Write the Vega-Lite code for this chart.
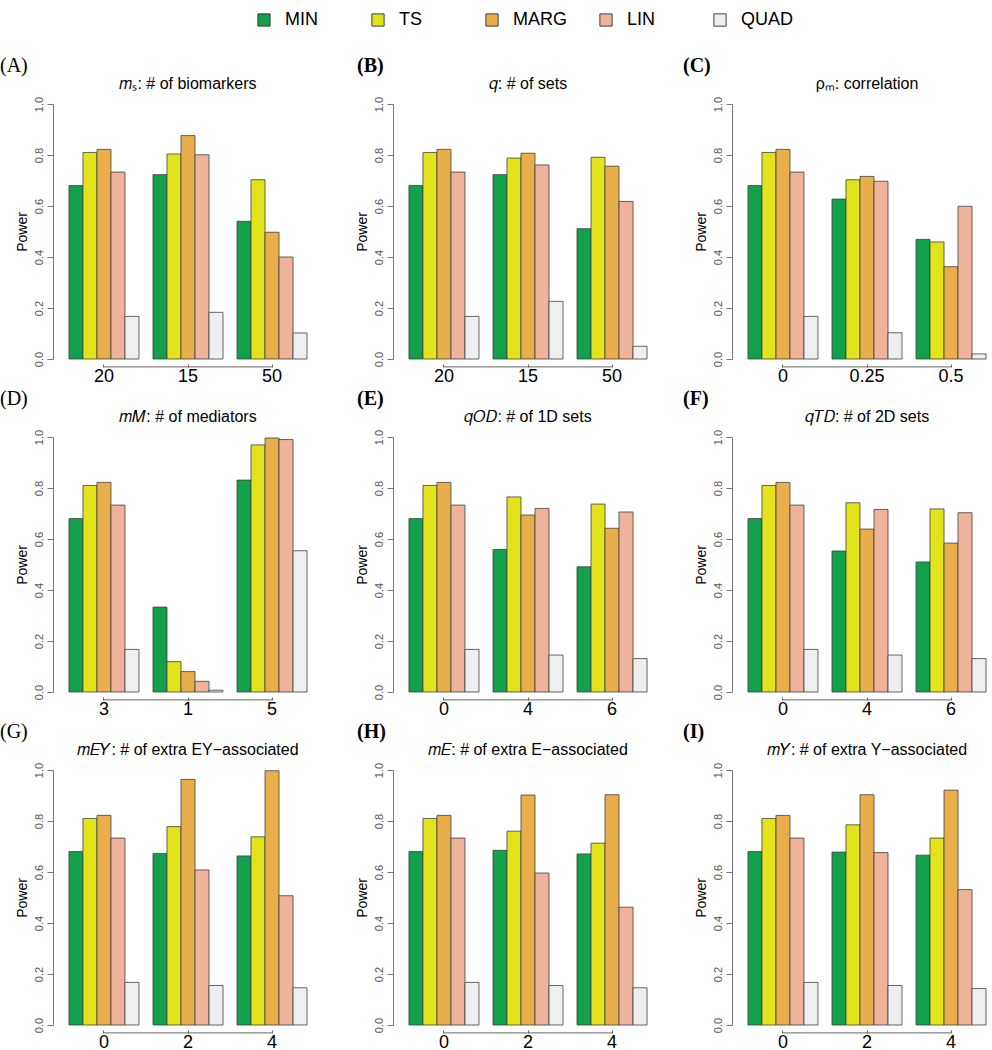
{
  "$schema": "https://vega.github.io/schema/vega-lite/v6.json",
  "padding": {"left": 0, "top": 11, "right": 0, "bottom": 2},
  "background": "white",
  "spacing": 4,
  "config": {
    "view": {"stroke": null},
    "font": "Liberation Sans"
  },
  "datasets": {
    "d": [
      {"panel": "A", "group": "20", "method": "MIN", "power": 0.68},
      {"panel": "A", "group": "20", "method": "TS", "power": 0.81},
      {"panel": "A", "group": "20", "method": "MARG", "power": 0.822},
      {"panel": "A", "group": "20", "method": "LIN", "power": 0.733},
      {"panel": "A", "group": "20", "method": "QUAD", "power": 0.167},
      {"panel": "A", "group": "15", "method": "MIN", "power": 0.723},
      {"panel": "A", "group": "15", "method": "TS", "power": 0.804},
      {"panel": "A", "group": "15", "method": "MARG", "power": 0.876},
      {"panel": "A", "group": "15", "method": "LIN", "power": 0.801},
      {"panel": "A", "group": "15", "method": "QUAD", "power": 0.183},
      {"panel": "A", "group": "50", "method": "MIN", "power": 0.54},
      {"panel": "A", "group": "50", "method": "TS", "power": 0.703},
      {"panel": "A", "group": "50", "method": "MARG", "power": 0.497},
      {"panel": "A", "group": "50", "method": "LIN", "power": 0.4},
      {"panel": "A", "group": "50", "method": "QUAD", "power": 0.102},

      {"panel": "B", "group": "20", "method": "MIN", "power": 0.68},
      {"panel": "B", "group": "20", "method": "TS", "power": 0.81},
      {"panel": "B", "group": "20", "method": "MARG", "power": 0.822},
      {"panel": "B", "group": "20", "method": "LIN", "power": 0.733},
      {"panel": "B", "group": "20", "method": "QUAD", "power": 0.167},
      {"panel": "B", "group": "15", "method": "MIN", "power": 0.723},
      {"panel": "B", "group": "15", "method": "TS", "power": 0.788},
      {"panel": "B", "group": "15", "method": "MARG", "power": 0.807},
      {"panel": "B", "group": "15", "method": "LIN", "power": 0.761},
      {"panel": "B", "group": "15", "method": "QUAD", "power": 0.226},
      {"panel": "B", "group": "50", "method": "MIN", "power": 0.511},
      {"panel": "B", "group": "50", "method": "TS", "power": 0.791},
      {"panel": "B", "group": "50", "method": "MARG", "power": 0.756},
      {"panel": "B", "group": "50", "method": "LIN", "power": 0.618},
      {"panel": "B", "group": "50", "method": "QUAD", "power": 0.05},

      {"panel": "C", "group": "0", "method": "MIN", "power": 0.68},
      {"panel": "C", "group": "0", "method": "TS", "power": 0.81},
      {"panel": "C", "group": "0", "method": "MARG", "power": 0.822},
      {"panel": "C", "group": "0", "method": "LIN", "power": 0.733},
      {"panel": "C", "group": "0", "method": "QUAD", "power": 0.167},
      {"panel": "C", "group": "0.25", "method": "MIN", "power": 0.627},
      {"panel": "C", "group": "0.25", "method": "TS", "power": 0.703},
      {"panel": "C", "group": "0.25", "method": "MARG", "power": 0.716},
      {"panel": "C", "group": "0.25", "method": "LIN", "power": 0.697},
      {"panel": "C", "group": "0.25", "method": "QUAD", "power": 0.103},
      {"panel": "C", "group": "0.5", "method": "MIN", "power": 0.469},
      {"panel": "C", "group": "0.5", "method": "TS", "power": 0.459},
      {"panel": "C", "group": "0.5", "method": "MARG", "power": 0.362},
      {"panel": "C", "group": "0.5", "method": "LIN", "power": 0.599},
      {"panel": "C", "group": "0.5", "method": "QUAD", "power": 0.02},

      {"panel": "D", "group": "3", "method": "MIN", "power": 0.68},
      {"panel": "D", "group": "3", "method": "TS", "power": 0.81},
      {"panel": "D", "group": "3", "method": "MARG", "power": 0.822},
      {"panel": "D", "group": "3", "method": "LIN", "power": 0.733},
      {"panel": "D", "group": "3", "method": "QUAD", "power": 0.167},
      {"panel": "D", "group": "1", "method": "MIN", "power": 0.333},
      {"panel": "D", "group": "1", "method": "TS", "power": 0.119},
      {"panel": "D", "group": "1", "method": "MARG", "power": 0.08},
      {"panel": "D", "group": "1", "method": "LIN", "power": 0.042},
      {"panel": "D", "group": "1", "method": "QUAD", "power": 0.007},
      {"panel": "D", "group": "5", "method": "MIN", "power": 0.831},
      {"panel": "D", "group": "5", "method": "TS", "power": 0.969},
      {"panel": "D", "group": "5", "method": "MARG", "power": 0.996},
      {"panel": "D", "group": "5", "method": "LIN", "power": 0.99},
      {"panel": "D", "group": "5", "method": "QUAD", "power": 0.554},

      {"panel": "E", "group": "0", "method": "MIN", "power": 0.68},
      {"panel": "E", "group": "0", "method": "TS", "power": 0.81},
      {"panel": "E", "group": "0", "method": "MARG", "power": 0.822},
      {"panel": "E", "group": "0", "method": "LIN", "power": 0.733},
      {"panel": "E", "group": "0", "method": "QUAD", "power": 0.167},
      {"panel": "E", "group": "4", "method": "MIN", "power": 0.559},
      {"panel": "E", "group": "4", "method": "TS", "power": 0.765},
      {"panel": "E", "group": "4", "method": "MARG", "power": 0.694},
      {"panel": "E", "group": "4", "method": "LIN", "power": 0.72},
      {"panel": "E", "group": "4", "method": "QUAD", "power": 0.145},
      {"panel": "E", "group": "6", "method": "MIN", "power": 0.491},
      {"panel": "E", "group": "6", "method": "TS", "power": 0.737},
      {"panel": "E", "group": "6", "method": "MARG", "power": 0.642},
      {"panel": "E", "group": "6", "method": "LIN", "power": 0.706},
      {"panel": "E", "group": "6", "method": "QUAD", "power": 0.131},

      {"panel": "F", "group": "0", "method": "MIN", "power": 0.68},
      {"panel": "F", "group": "0", "method": "TS", "power": 0.81},
      {"panel": "F", "group": "0", "method": "MARG", "power": 0.822},
      {"panel": "F", "group": "0", "method": "LIN", "power": 0.733},
      {"panel": "F", "group": "0", "method": "QUAD", "power": 0.167},
      {"panel": "F", "group": "4", "method": "MIN", "power": 0.553},
      {"panel": "F", "group": "4", "method": "TS", "power": 0.742},
      {"panel": "F", "group": "4", "method": "MARG", "power": 0.639},
      {"panel": "F", "group": "4", "method": "LIN", "power": 0.716},
      {"panel": "F", "group": "4", "method": "QUAD", "power": 0.145},
      {"panel": "F", "group": "6", "method": "MIN", "power": 0.51},
      {"panel": "F", "group": "6", "method": "TS", "power": 0.718},
      {"panel": "F", "group": "6", "method": "MARG", "power": 0.584},
      {"panel": "F", "group": "6", "method": "LIN", "power": 0.703},
      {"panel": "F", "group": "6", "method": "QUAD", "power": 0.131},

      {"panel": "G", "group": "0", "method": "MIN", "power": 0.68},
      {"panel": "G", "group": "0", "method": "TS", "power": 0.81},
      {"panel": "G", "group": "0", "method": "MARG", "power": 0.822},
      {"panel": "G", "group": "0", "method": "LIN", "power": 0.733},
      {"panel": "G", "group": "0", "method": "QUAD", "power": 0.167},
      {"panel": "G", "group": "2", "method": "MIN", "power": 0.673},
      {"panel": "G", "group": "2", "method": "TS", "power": 0.778},
      {"panel": "G", "group": "2", "method": "MARG", "power": 0.963},
      {"panel": "G", "group": "2", "method": "LIN", "power": 0.608},
      {"panel": "G", "group": "2", "method": "QUAD", "power": 0.155},
      {"panel": "G", "group": "4", "method": "MIN", "power": 0.663},
      {"panel": "G", "group": "4", "method": "TS", "power": 0.738},
      {"panel": "G", "group": "4", "method": "MARG", "power": 0.997},
      {"panel": "G", "group": "4", "method": "LIN", "power": 0.507},
      {"panel": "G", "group": "4", "method": "QUAD", "power": 0.146},

      {"panel": "H", "group": "0", "method": "MIN", "power": 0.68},
      {"panel": "H", "group": "0", "method": "TS", "power": 0.81},
      {"panel": "H", "group": "0", "method": "MARG", "power": 0.822},
      {"panel": "H", "group": "0", "method": "LIN", "power": 0.733},
      {"panel": "H", "group": "0", "method": "QUAD", "power": 0.167},
      {"panel": "H", "group": "2", "method": "MIN", "power": 0.685},
      {"panel": "H", "group": "2", "method": "TS", "power": 0.76},
      {"panel": "H", "group": "2", "method": "MARG", "power": 0.902},
      {"panel": "H", "group": "2", "method": "LIN", "power": 0.596},
      {"panel": "H", "group": "2", "method": "QUAD", "power": 0.155},
      {"panel": "H", "group": "4", "method": "MIN", "power": 0.671},
      {"panel": "H", "group": "4", "method": "TS", "power": 0.713},
      {"panel": "H", "group": "4", "method": "MARG", "power": 0.903},
      {"panel": "H", "group": "4", "method": "LIN", "power": 0.462},
      {"panel": "H", "group": "4", "method": "QUAD", "power": 0.146},

      {"panel": "I", "group": "0", "method": "MIN", "power": 0.68},
      {"panel": "I", "group": "0", "method": "TS", "power": 0.81},
      {"panel": "I", "group": "0", "method": "MARG", "power": 0.822},
      {"panel": "I", "group": "0", "method": "LIN", "power": 0.733},
      {"panel": "I", "group": "0", "method": "QUAD", "power": 0.167},
      {"panel": "I", "group": "2", "method": "MIN", "power": 0.678},
      {"panel": "I", "group": "2", "method": "TS", "power": 0.785},
      {"panel": "I", "group": "2", "method": "MARG", "power": 0.903},
      {"panel": "I", "group": "2", "method": "LIN", "power": 0.676},
      {"panel": "I", "group": "2", "method": "QUAD", "power": 0.155},
      {"panel": "I", "group": "4", "method": "MIN", "power": 0.666},
      {"panel": "I", "group": "4", "method": "TS", "power": 0.733},
      {"panel": "I", "group": "4", "method": "MARG", "power": 0.921},
      {"panel": "I", "group": "4", "method": "LIN", "power": 0.531},
      {"panel": "I", "group": "4", "method": "QUAD", "power": 0.143}
    ]
  },
  "vconcat": [
    {"spacing": 20, "hconcat": [
      {"title": {"text": "(A)", "anchor": "start", "font": "Liberation Serif", "fontSize": 20, "fontWeight": "normal", "offset": 0, "dx": -15},
       "vconcat": [{
        "width": 282, "height": 255,
        "title": {"text": "𝑚ₛ: # of biomarkers", "anchor": "middle", "frame": "group", "fontSize": 16, "fontWeight": "normal", "offset": 4, "dx": -6},
        "layer": [
          {"data": {"name": "d"}, "transform": [{"filter": "datum.panel == 'A'"}],
           "mark": {"type": "bar", "stroke": "#404040", "strokeWidth": 0.8},
           "encoding": {
             "x": {"field": "group", "type": "nominal", "scale": {"domain": ["20", "15", "50"], "range": [0, 270], "paddingInner": 0.1667, "paddingOuter": 0.19},
                   "axis": {"title": null, "labelAngle": 0, "labelFontSize": 18, "domain": false, "tickSize": -3, "tickColor": "#666", "offset": 8, "labelPadding": 3}},
             "xOffset": {"field": "method", "type": "nominal", "scale": {"domain": ["MIN", "TS", "MARG", "LIN", "QUAD"], "paddingInner": 0, "paddingOuter": 0}},
             "y": {"field": "power", "type": "quantitative", "scale": {"domain": [0, 1], "nice": false},
                   "axis": {"title": "Power", "values": [0, 0.2, 0.4, 0.6, 0.8, 1], "format": ".1f", "labelAngle": -90, "labelAlign": "center", "labelBaseline": "bottom", "labelFontSize": 11, "labelColor": "#555", "tickSize": 6, "tickColor": "#777", "domainColor": "#777", "grid": false, "titleFontSize": 14, "titleFontWeight": "normal", "titlePadding": 4, "labelPadding": 3}},
             "color": {"field": "method", "type": "nominal", "scale": {"domain": ["MIN", "TS", "MARG", "LIN", "QUAD"], "range": ["#12a14a", "#e2e31a", "#e9ae4c", "#efb29b", "#eeeff1"]},
                       "legend": {"title": null, "orient": "none", "legendX": 202, "legendY": -93, "direction": "horizontal", "columns": 5, "gridAlign": "all", "symbolType": "square", "symbolSize": 150, "symbolStrokeColor": "#555", "symbolStrokeWidth": 1, "labelFontSize": 18, "labelOffset": 12, "columnPadding": 30}}
           }},
          {"data": {"values": [{"a": "20", "b": "50"}]}, "mark": {"type": "rule", "color": "#666", "strokeWidth": 1},
           "encoding": {"x": {"field": "a", "type": "nominal"}, "x2": {"field": "b"}, "y": {"datum": -0.031}}}
        ]
      }]},
      {"title": {"text": "(B)", "anchor": "start", "font": "Liberation Serif", "fontSize": 20, "fontWeight": "bold", "offset": 0, "dx": 2},
       "vconcat": [{
        "width": 270, "height": 255,
        "title": {"text": "𝑞: # of sets", "anchor": "middle", "frame": "group", "fontSize": 16, "fontWeight": "normal", "offset": 4},
        "layer": [
          {"data": {"name": "d"}, "transform": [{"filter": "datum.panel == 'B'"}],
           "mark": {"type": "bar", "stroke": "#404040", "strokeWidth": 0.8},
           "encoding": {
             "x": {"field": "group", "type": "nominal", "scale": {"domain": ["20", "15", "50"], "paddingInner": 0.1667, "paddingOuter": 0.19},
                   "axis": {"title": null, "labelAngle": 0, "labelFontSize": 18, "domain": false, "tickSize": -3, "tickColor": "#666", "offset": 8, "labelPadding": 3}},
             "xOffset": {"field": "method", "type": "nominal", "scale": {"domain": ["MIN", "TS", "MARG", "LIN", "QUAD"], "paddingInner": 0, "paddingOuter": 0}},
             "y": {"field": "power", "type": "quantitative", "scale": {"domain": [0, 1], "nice": false},
                   "axis": {"title": "Power", "values": [0, 0.2, 0.4, 0.6, 0.8, 1], "format": ".1f", "labelAngle": -90, "labelAlign": "center", "labelBaseline": "bottom", "labelFontSize": 11, "labelColor": "#555", "tickSize": 6, "tickColor": "#777", "domainColor": "#777", "grid": false, "titleFontSize": 14, "titleFontWeight": "normal", "titlePadding": 4, "labelPadding": 3}},
             "color": {"field": "method", "type": "nominal"}
           }},
          {"data": {"values": [{"a": "20", "b": "50"}]}, "mark": {"type": "rule", "color": "#666", "strokeWidth": 1},
           "encoding": {"x": {"field": "a", "type": "nominal"}, "x2": {"field": "b"}, "y": {"datum": -0.031}}}
        ]
      }]},
      {"title": {"text": "(C)", "anchor": "start", "font": "Liberation Serif", "fontSize": 20, "fontWeight": "bold", "offset": 0, "dx": -11},
       "vconcat": [{
        "width": 258, "height": 255,
        "title": {"text": "ρₘ: correlation", "anchor": "middle", "frame": "group", "fontSize": 16, "fontWeight": "normal", "offset": 4, "dx": 6},
        "layer": [
          {"data": {"name": "d"}, "transform": [{"filter": "datum.panel == 'C'"}],
           "mark": {"type": "bar", "stroke": "#404040", "strokeWidth": 0.8},
           "encoding": {
             "x": {"field": "group", "type": "nominal", "scale": {"domain": ["0", "0.25", "0.5"], "range": [0, 270], "paddingInner": 0.1667, "paddingOuter": 0.19},
                   "axis": {"title": null, "labelAngle": 0, "labelFontSize": 18, "domain": false, "tickSize": -3, "tickColor": "#666", "offset": 8, "labelPadding": 3}},
             "xOffset": {"field": "method", "type": "nominal", "scale": {"domain": ["MIN", "TS", "MARG", "LIN", "QUAD"], "paddingInner": 0, "paddingOuter": 0}},
             "y": {"field": "power", "type": "quantitative", "scale": {"domain": [0, 1], "nice": false},
                   "axis": {"title": "Power", "values": [0, 0.2, 0.4, 0.6, 0.8, 1], "format": ".1f", "labelAngle": -90, "labelAlign": "center", "labelBaseline": "bottom", "labelFontSize": 11, "labelColor": "#555", "tickSize": 6, "tickColor": "#777", "domainColor": "#777", "grid": false, "titleFontSize": 14, "titleFontWeight": "normal", "titlePadding": 4, "labelPadding": 3}},
             "color": {"field": "method", "type": "nominal"}
           }},
          {"data": {"values": [{"a": "0", "b": "0.5"}]}, "mark": {"type": "rule", "color": "#666", "strokeWidth": 1},
           "encoding": {"x": {"field": "a", "type": "nominal"}, "x2": {"field": "b"}, "y": {"datum": -0.031}}}
        ]
      }]}
    ]},
    {"spacing": 20, "hconcat": [
      {"title": {"text": "(D)", "anchor": "start", "font": "Liberation Serif", "fontSize": 20, "fontWeight": "normal", "offset": 0, "dx": -15},
       "vconcat": [{
        "width": 282, "height": 255,
        "title": {"text": "𝑚𝑀: # of mediators", "anchor": "middle", "frame": "group", "fontSize": 16, "fontWeight": "normal", "offset": 4, "dx": -6},
        "layer": [
          {"data": {"name": "d"}, "transform": [{"filter": "datum.panel == 'D'"}],
           "mark": {"type": "bar", "stroke": "#404040", "strokeWidth": 0.8},
           "encoding": {
             "x": {"field": "group", "type": "nominal", "scale": {"domain": ["3", "1", "5"], "range": [0, 270], "paddingInner": 0.1667, "paddingOuter": 0.19},
                   "axis": {"title": null, "labelAngle": 0, "labelFontSize": 18, "domain": false, "tickSize": -3, "tickColor": "#666", "offset": 8, "labelPadding": 3}},
             "xOffset": {"field": "method", "type": "nominal", "scale": {"domain": ["MIN", "TS", "MARG", "LIN", "QUAD"], "paddingInner": 0, "paddingOuter": 0}},
             "y": {"field": "power", "type": "quantitative", "scale": {"domain": [0, 1], "nice": false},
                   "axis": {"title": "Power", "values": [0, 0.2, 0.4, 0.6, 0.8, 1], "format": ".1f", "labelAngle": -90, "labelAlign": "center", "labelBaseline": "bottom", "labelFontSize": 11, "labelColor": "#555", "tickSize": 6, "tickColor": "#777", "domainColor": "#777", "grid": false, "titleFontSize": 14, "titleFontWeight": "normal", "titlePadding": 4, "labelPadding": 3}},
             "color": {"field": "method", "type": "nominal"}
           }},
          {"data": {"values": [{"a": "3", "b": "5"}]}, "mark": {"type": "rule", "color": "#666", "strokeWidth": 1},
           "encoding": {"x": {"field": "a", "type": "nominal"}, "x2": {"field": "b"}, "y": {"datum": -0.031}}}
        ]
      }]},
      {"title": {"text": "(E)", "anchor": "start", "font": "Liberation Serif", "fontSize": 20, "fontWeight": "bold", "offset": 0, "dx": 2},
       "vconcat": [{
        "width": 270, "height": 255,
        "title": {"text": "𝑞𝑂𝐷: # of 1D sets", "anchor": "middle", "frame": "group", "fontSize": 16, "fontWeight": "normal", "offset": 4},
        "layer": [
          {"data": {"name": "d"}, "transform": [{"filter": "datum.panel == 'E'"}],
           "mark": {"type": "bar", "stroke": "#404040", "strokeWidth": 0.8},
           "encoding": {
             "x": {"field": "group", "type": "nominal", "scale": {"domain": ["0", "4", "6"], "paddingInner": 0.1667, "paddingOuter": 0.19},
                   "axis": {"title": null, "labelAngle": 0, "labelFontSize": 18, "domain": false, "tickSize": -3, "tickColor": "#666", "offset": 8, "labelPadding": 3}},
             "xOffset": {"field": "method", "type": "nominal", "scale": {"domain": ["MIN", "TS", "MARG", "LIN", "QUAD"], "paddingInner": 0, "paddingOuter": 0}},
             "y": {"field": "power", "type": "quantitative", "scale": {"domain": [0, 1], "nice": false},
                   "axis": {"title": "Power", "values": [0, 0.2, 0.4, 0.6, 0.8, 1], "format": ".1f", "labelAngle": -90, "labelAlign": "center", "labelBaseline": "bottom", "labelFontSize": 11, "labelColor": "#555", "tickSize": 6, "tickColor": "#777", "domainColor": "#777", "grid": false, "titleFontSize": 14, "titleFontWeight": "normal", "titlePadding": 4, "labelPadding": 3}},
             "color": {"field": "method", "type": "nominal"}
           }},
          {"data": {"values": [{"a": "0", "b": "6"}]}, "mark": {"type": "rule", "color": "#666", "strokeWidth": 1},
           "encoding": {"x": {"field": "a", "type": "nominal"}, "x2": {"field": "b"}, "y": {"datum": -0.031}}}
        ]
      }]},
      {"title": {"text": "(F)", "anchor": "start", "font": "Liberation Serif", "fontSize": 20, "fontWeight": "bold", "offset": 0, "dx": -11},
       "vconcat": [{
        "width": 258, "height": 255,
        "title": {"text": "𝑞𝑇𝐷: # of 2D sets", "anchor": "middle", "frame": "group", "fontSize": 16, "fontWeight": "normal", "offset": 4, "dx": 6},
        "layer": [
          {"data": {"name": "d"}, "transform": [{"filter": "datum.panel == 'F'"}],
           "mark": {"type": "bar", "stroke": "#404040", "strokeWidth": 0.8},
           "encoding": {
             "x": {"field": "group", "type": "nominal", "scale": {"domain": ["0", "4", "6"], "range": [0, 270], "paddingInner": 0.1667, "paddingOuter": 0.19},
                   "axis": {"title": null, "labelAngle": 0, "labelFontSize": 18, "domain": false, "tickSize": -3, "tickColor": "#666", "offset": 8, "labelPadding": 3}},
             "xOffset": {"field": "method", "type": "nominal", "scale": {"domain": ["MIN", "TS", "MARG", "LIN", "QUAD"], "paddingInner": 0, "paddingOuter": 0}},
             "y": {"field": "power", "type": "quantitative", "scale": {"domain": [0, 1], "nice": false},
                   "axis": {"title": "Power", "values": [0, 0.2, 0.4, 0.6, 0.8, 1], "format": ".1f", "labelAngle": -90, "labelAlign": "center", "labelBaseline": "bottom", "labelFontSize": 11, "labelColor": "#555", "tickSize": 6, "tickColor": "#777", "domainColor": "#777", "grid": false, "titleFontSize": 14, "titleFontWeight": "normal", "titlePadding": 4, "labelPadding": 3}},
             "color": {"field": "method", "type": "nominal"}
           }},
          {"data": {"values": [{"a": "0", "b": "6"}]}, "mark": {"type": "rule", "color": "#666", "strokeWidth": 1},
           "encoding": {"x": {"field": "a", "type": "nominal"}, "x2": {"field": "b"}, "y": {"datum": -0.031}}}
        ]
      }]}
    ]},
    {"spacing": 20, "hconcat": [
      {"title": {"text": "(G)", "anchor": "start", "font": "Liberation Serif", "fontSize": 20, "fontWeight": "normal", "offset": 0, "dx": -15},
       "vconcat": [{
        "width": 282, "height": 255,
        "title": {"text": "𝑚𝐸𝑌: # of extra EY−associated", "anchor": "middle", "frame": "group", "fontSize": 16, "fontWeight": "normal", "offset": 4, "dx": -6},
        "layer": [
          {"data": {"name": "d"}, "transform": [{"filter": "datum.panel == 'G'"}],
           "mark": {"type": "bar", "stroke": "#404040", "strokeWidth": 0.8},
           "encoding": {
             "x": {"field": "group", "type": "nominal", "scale": {"domain": ["0", "2", "4"], "range": [0, 270], "paddingInner": 0.1667, "paddingOuter": 0.19},
                   "axis": {"title": null, "labelAngle": 0, "labelFontSize": 18, "domain": false, "tickSize": -3, "tickColor": "#666", "offset": 8, "labelPadding": 3}},
             "xOffset": {"field": "method", "type": "nominal", "scale": {"domain": ["MIN", "TS", "MARG", "LIN", "QUAD"], "paddingInner": 0, "paddingOuter": 0}},
             "y": {"field": "power", "type": "quantitative", "scale": {"domain": [0, 1], "nice": false},
                   "axis": {"title": "Power", "values": [0, 0.2, 0.4, 0.6, 0.8, 1], "format": ".1f", "labelAngle": -90, "labelAlign": "center", "labelBaseline": "bottom", "labelFontSize": 11, "labelColor": "#555", "tickSize": 6, "tickColor": "#777", "domainColor": "#777", "grid": false, "titleFontSize": 14, "titleFontWeight": "normal", "titlePadding": 4, "labelPadding": 3}},
             "color": {"field": "method", "type": "nominal"}
           }},
          {"data": {"values": [{"a": "0", "b": "4"}]}, "mark": {"type": "rule", "color": "#666", "strokeWidth": 1},
           "encoding": {"x": {"field": "a", "type": "nominal"}, "x2": {"field": "b"}, "y": {"datum": -0.031}}}
        ]
      }]},
      {"title": {"text": "(H)", "anchor": "start", "font": "Liberation Serif", "fontSize": 20, "fontWeight": "bold", "offset": 0, "dx": 2},
       "vconcat": [{
        "width": 270, "height": 255,
        "title": {"text": "𝑚𝐸: # of extra E−associated", "anchor": "middle", "frame": "group", "fontSize": 16, "fontWeight": "normal", "offset": 4},
        "layer": [
          {"data": {"name": "d"}, "transform": [{"filter": "datum.panel == 'H'"}],
           "mark": {"type": "bar", "stroke": "#404040", "strokeWidth": 0.8},
           "encoding": {
             "x": {"field": "group", "type": "nominal", "scale": {"domain": ["0", "2", "4"], "paddingInner": 0.1667, "paddingOuter": 0.19},
                   "axis": {"title": null, "labelAngle": 0, "labelFontSize": 18, "domain": false, "tickSize": -3, "tickColor": "#666", "offset": 8, "labelPadding": 3}},
             "xOffset": {"field": "method", "type": "nominal", "scale": {"domain": ["MIN", "TS", "MARG", "LIN", "QUAD"], "paddingInner": 0, "paddingOuter": 0}},
             "y": {"field": "power", "type": "quantitative", "scale": {"domain": [0, 1], "nice": false},
                   "axis": {"title": "Power", "values": [0, 0.2, 0.4, 0.6, 0.8, 1], "format": ".1f", "labelAngle": -90, "labelAlign": "center", "labelBaseline": "bottom", "labelFontSize": 11, "labelColor": "#555", "tickSize": 6, "tickColor": "#777", "domainColor": "#777", "grid": false, "titleFontSize": 14, "titleFontWeight": "normal", "titlePadding": 4, "labelPadding": 3}},
             "color": {"field": "method", "type": "nominal"}
           }},
          {"data": {"values": [{"a": "0", "b": "4"}]}, "mark": {"type": "rule", "color": "#666", "strokeWidth": 1},
           "encoding": {"x": {"field": "a", "type": "nominal"}, "x2": {"field": "b"}, "y": {"datum": -0.031}}}
        ]
      }]},
      {"title": {"text": "(I)", "anchor": "start", "font": "Liberation Serif", "fontSize": 20, "fontWeight": "bold", "offset": 0, "dx": -11},
       "vconcat": [{
        "width": 258, "height": 255,
        "title": {"text": "𝑚𝑌: # of extra Y−associated", "anchor": "middle", "frame": "group", "fontSize": 16, "fontWeight": "normal", "offset": 4, "dx": 6},
        "layer": [
          {"data": {"name": "d"}, "transform": [{"filter": "datum.panel == 'I'"}],
           "mark": {"type": "bar", "stroke": "#404040", "strokeWidth": 0.8},
           "encoding": {
             "x": {"field": "group", "type": "nominal", "scale": {"domain": ["0", "2", "4"], "range": [0, 270], "paddingInner": 0.1667, "paddingOuter": 0.19},
                   "axis": {"title": null, "labelAngle": 0, "labelFontSize": 18, "domain": false, "tickSize": -3, "tickColor": "#666", "offset": 8, "labelPadding": 3}},
             "xOffset": {"field": "method", "type": "nominal", "scale": {"domain": ["MIN", "TS", "MARG", "LIN", "QUAD"], "paddingInner": 0, "paddingOuter": 0}},
             "y": {"field": "power", "type": "quantitative", "scale": {"domain": [0, 1], "nice": false},
                   "axis": {"title": "Power", "values": [0, 0.2, 0.4, 0.6, 0.8, 1], "format": ".1f", "labelAngle": -90, "labelAlign": "center", "labelBaseline": "bottom", "labelFontSize": 11, "labelColor": "#555", "tickSize": 6, "tickColor": "#777", "domainColor": "#777", "grid": false, "titleFontSize": 14, "titleFontWeight": "normal", "titlePadding": 4, "labelPadding": 3}},
             "color": {"field": "method", "type": "nominal"}
           }},
          {"data": {"values": [{"a": "0", "b": "4"}]}, "mark": {"type": "rule", "color": "#666", "strokeWidth": 1},
           "encoding": {"x": {"field": "a", "type": "nominal"}, "x2": {"field": "b"}, "y": {"datum": -0.031}}}
        ]
      }]}
    ]}
  ]
}
